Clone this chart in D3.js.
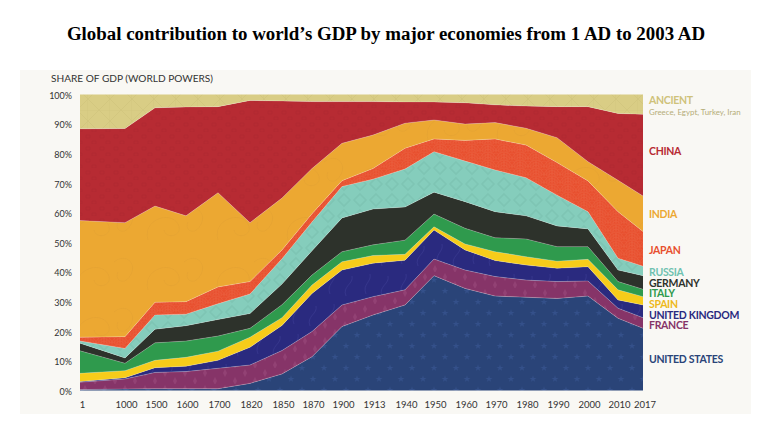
<!DOCTYPE html>
<html>
<head>
<meta charset="utf-8">
<script src="https://cdn.jsdelivr.net/npm/d3@7"></script>
<style>
  html, body { margin: 0; padding: 0; background: #fff; }
  svg { display: block; }
  text { font-family: Lato, "Open Sans", sans-serif; }
</style>
</head>
<body>
<div id="chart"></div>
<script>
// data (percent share per period)
var years = ["1", "1000", "1500", "1600", "1700", "1820", "1850", "1870", "1900", "1913", "1940", "1950", "1960", "1970", "1980", "1990", "2000", "2010", "2017"];
var seriesNames = ["United States", "France", "United Kingdom", "Spain", "Italy", "Germany", "Russia", "Japan", "India", "China", "Ancient"];
var yTicks = [0, 10, 20, 30, 40, 50, 60, 70, 80, 90, 100];

var unitedStates = [0.3, 0.5, 0.6, 0.6, 0.6, 2.4, 5.6, 11.4, 21.6, 25.5, 28.9, 38.8, 34.5, 31.9, 31.5, 31.1, 31.9, 24.4, 21];
var france = [2.5, 3.4, 5.5, 5.8, 6.9, 6.2, 7.9, 8.5, 7.3, 6.2, 5.1, 5.6, 6.2, 6.6, 5.8, 5.7, 5.1, 3.4, 3.6];
var unitedKingdom = [0.2, 0.4, 1.6, 1.8, 2.7, 6, 8.5, 12.9, 11.8, 11.3, 10, 9.8, 6.8, 5.4, 5.1, 4.5, 4.8, 2.8, 4.3];
var spain = [2.8, 2.4, 2.5, 3, 3.1, 3.4, 2.6, 2.8, 2.8, 2.6, 2, 1.1, 2, 3, 2.8, 2.4, 2.5, 3.4, 2.8];
var italy = [7.6, 2.5, 5.9, 5.5, 5.1, 3, 4.4, 3.4, 3.4, 3.6, 4.8, 4.3, 5.3, 4.7, 6, 4.9, 4.3, 2.8, 2.5];
var germany = [2.6, 1.8, 4.6, 5.2, 5.6, 5, 7, 8.2, 11.4, 12.1, 11.2, 7.4, 9, 8.8, 7.8, 7, 6, 3.9, 4.6];
var russia = [0.7, 3.2, 4.8, 3.9, 5.3, 6.6, 8.5, 9.7, 10.6, 10.1, 12.8, 13.7, 13.7, 14.1, 12.9, 10.4, 5.8, 4, 3.2];
var japan = [1.3, 4, 4.3, 4.2, 5.7, 4.2, 3, 2.8, 2, 3.6, 7, 4.3, 7, 10.5, 11, 11, 10.4, 15.7, 11.7];
var india = [39.4, 38.5, 32.5, 29, 31.8, 19.9, 17.5, 15.3, 12.6, 11.3, 8.5, 6.4, 5.5, 5.5, 5.7, 8.4, 6.5, 10.6, 12];
var china = [31, 31.8, 33.2, 36.8, 29.1, 41.3, 32.8, 22.6, 14.1, 11.3, 7.2, 6.1, 7.2, 6, 7.5, 10.5, 18.6, 22.6, 27.6];
var ancient = [11.6, 11.5, 4.5, 4.2, 4.1, 2, 2.2, 2.4, 2.4, 2.4, 2.5, 2.5, 2.8, 3.5, 3.9, 4.1, 4.1, 6.4, 6.7];

var seriesValues = [unitedStates, france, unitedKingdom, spain, italy, germany, russia, japan, india, china, ancient];

// legend text beside the chart
var labelTexts = ["ANCIENT", "CHINA", "INDIA", "JAPAN", "RUSSIA", "GERMANY", "ITALY", "SPAIN", "UNITED KINGDOM", "FRANCE", "UNITED STATES"];

// layout and styles
var svgWidth = 767;
var svgHeight = 433;
var plot = { left: 80, right: 643, top: 94.5, bottom: 390.5 };
var xGaps = [0, 45, 30, 31, 32, 32, 32, 30, 30, 31, 32, 29, 31, 30, 31, 31, 31, 30, 25];
var colors = ["#2a4478", "#863468", "#2a2a7f", "#f6cc1a", "#2f9a4d", "#2d322b", "#85cdbc", "#e8502f", "#eca832", "#b72b33", "#d9cd85"];
var labelY = [100, 151, 214, 250, 272, 283, 293.5, 304.5, 315, 325.5, 359];
var labelColors = ["#cfc27a", "#b72b33", "#eca832", "#e8502f", "#6fc2b0", "#2d322b", "#2f9a4d", "#eeb91a", "#2a2a7f", "#863468", "#2a4478"];

var svg = d3.select("#chart")
  .append("svg")
  .attr("width", svgWidth)
  .attr("height", svgHeight);

// faint textures inside the bands
var defs = svg.append("defs");

function addPattern(id, w, h, color, draw) {
  var p = defs.append("pattern")
    .attr("id", id)
    .attr("patternUnits", "userSpaceOnUse")
    .attr("width", w)
    .attr("height", h);
  p.append("rect").attr("width", w).attr("height", h).attr("fill", color);
  draw(p);
}

var star = d3.symbol().type(d3.symbolStar);

addPattern("tex0", 22, 22, colors[0], function(p) {
  p.append("path").attr("d", star.size(14)()).attr("transform", "translate(5,5)").attr("fill", "#34508a");
  p.append("path").attr("d", star.size(14)()).attr("transform", "translate(16,16)").attr("fill", "#34508a");
});
addPattern("tex1", 20, 16, colors[1], function(p) {
  p.append("path").attr("d", "M5 1 L7 5 L5 9 L3 5 Z M15 9 L17 13 L15 17 L13 13 Z").attr("fill", "#924174");
});
addPattern("tex2", 36, 30, colors[2], function(p) {
  p.append("path").attr("d", "M6 24 C2 14 12 12 10 4 M22 26 C18 16 30 14 28 6").attr("fill", "none").attr("stroke", "#35358c").attr("stroke-width", 1);
});
addPattern("tex6", 16, 16, colors[6], function(p) {
  p.append("path").attr("d", "M8 2 L14 8 L8 14 L2 8 Z").attr("fill", "none").attr("stroke", "#7ec5b4").attr("stroke-width", 1.6);
});
addPattern("tex7", 16, 8, colors[7], function(p) {
  [8, 5.5, 3].forEach(function(r) {
    p.append("circle").attr("cx", 8).attr("cy", 8).attr("r", r).attr("fill", "none").attr("stroke", "#ea5f3e").attr("stroke-width", 0.6);
    p.append("circle").attr("cx", 0).attr("cy", 4).attr("r", r).attr("fill", "none").attr("stroke", "#ea5f3e").attr("stroke-width", 0.5);
    p.append("circle").attr("cx", 16).attr("cy", 4).attr("r", r).attr("fill", "none").attr("stroke", "#ea5f3e").attr("stroke-width", 0.5);
  });
});
addPattern("tex8", 70, 50, colors[8], function(p) {
  p.append("path").attr("d", "M8 40 C2 20 30 10 38 24 C44 36 26 40 24 30 M44 12 C56 2 68 14 60 26 C54 36 44 30 48 22").attr("fill", "none").attr("stroke", "#e3a130").attr("stroke-width", 0.6);
});
addPattern("tex9", 14, 12, colors[9], function(p) {
  p.append("path").attr("d", "M2 3 h4 v3 h-4 Z M8 9 h4 v3 h-4 Z").attr("fill", "none").attr("stroke", "#ae2830").attr("stroke-width", 0.7);
});
addPattern("tex10", 22, 22, colors[10], function(p) {
  p.append("path").attr("d", "M11 0 L22 11 L11 22 L0 11 Z M0 0 H22 V22").attr("fill", "none").attr("stroke", "#cfc37a").attr("stroke-width", 0.6);
});

// paper background
svg.append("rect")
  .attr("x", 20)
  .attr("y", 70)
  .attr("width", 731)
  .attr("height", 344)
  .attr("fill", "#f9f8f4");

// title
svg.append("text")
  .attr("x", 386)
  .attr("y", 40)
  .attr("text-anchor", "middle")
  .style("font-family", "'Liberation Serif', serif")
  .style("font-weight", "bold")
  .style("font-size", "18.9px")
  .attr("fill", "#000")
  .text("Global contribution to world\u2019s GDP by major economies from 1 AD to 2003 AD");

// x scale: periods are not evenly spaced on the original axis
var xPositions = d3.cumsum(xGaps).map(function(d) { return plot.left + d; });
var xScale = d3.scaleLinear()
  .domain(years.map(Number))
  .range(Array.from(xPositions));

var yScale = d3.scaleLinear()
  .domain([0, 100])
  .range([plot.bottom, plot.top]);

// stack the series
var rows = years.map(function(y, i) {
  var row = { year: +y };
  seriesNames.forEach(function(name, s) {
    row[name] = seriesValues[s][i];
  });
  return row;
});

var stacked = d3.stack().keys(seriesNames)(rows);

var area = d3.area()
  .x(function(d) { return xScale(d.data.year); })
  .y0(function(d) { return yScale(d[0]); })
  .y1(function(d) { return yScale(d[1]); });

var topLine = d3.line()
  .x(function(d) { return xScale(d.data.year); })
  .y(function(d) { return yScale(d[1]); });

svg.append("g")
  .selectAll("path")
  .data(stacked)
  .enter()
  .append("path")
  .attr("d", area)
  .attr("fill", function(d, i) {
    return [0, 1, 2, 6, 7, 8, 9, 10].indexOf(i) >= 0 ? "url(#tex" + i + ")" : colors[i];
  });

// thin pale seams between bands
svg.append("g")
  .selectAll("path")
  .data(stacked.slice(0, -1))
  .enter()
  .append("path")
  .attr("d", topLine)
  .attr("fill", "none")
  .attr("stroke", "#fff")
  .attr("stroke-opacity", 0.3)
  .attr("stroke-width", 0.7);

// axes
var bottomAxis = d3.axisBottom(xScale)
  .tickValues(years.map(Number))
  .tickFormat(d3.format("d"))
  .tickSize(0);

var leftAxis = d3.axisLeft(yScale)
  .tickValues(yTicks)
  .tickFormat(function(d) { return d + "%"; })
  .tickSize(0);

var xAxisGroup = svg.append("g")
  .attr("transform", "translate(0," + plot.bottom + ")")
  .call(bottomAxis);
xAxisGroup.select(".domain").remove();
xAxisGroup.selectAll("text")
  .attr("y", 10.5)
  .attr("dx", function(d) { return d === 1 ? 2 : (d === 2017 ? 1.5 : 1); })
  .style("font-family", "Lato, sans-serif")
  .style("font-size", "9.5px")
  .attr("fill", "#333");

var yAxisGroup = svg.append("g")
  .attr("transform", "translate(" + plot.left + ",0)")
  .call(leftAxis);
yAxisGroup.select(".domain").remove();
yAxisGroup.selectAll("text")
  .attr("x", -8)
  .attr("y", 1)
  .style("font-family", "Lato, sans-serif")
  .style("font-size", "9px")
  .attr("fill", "#333");

// axis title
svg.append("text")
  .attr("x", 51)
  .attr("y", 82)
  .style("font-size", "10.1px")
  .attr("fill", "#333")
  .text("SHARE OF GDP (WORLD POWERS)");

// labels at the right
svg.append("g")
  .selectAll("text")
  .data(labelTexts)
  .enter()
  .append("text")
  .attr("x", 649)
  .attr("y", function(d, i) { return labelY[i]; })
  .attr("dy", "0.36em")
  .style("font-size", "10.5px")
  .style("letter-spacing", "-0.3px")
  .style("font-weight", "bold")
  .attr("fill", function(d, i) { return labelColors[i]; })
  .text(function(d) { return d; });

svg.append("text")
  .attr("x", 649)
  .attr("y", 112)
  .attr("dy", "0.36em")
  .style("font-size", "7.9px")
  .attr("fill", "#b5ad78")
  .text("Greece, Egypt, Turkey, Iran");
</script>
</body>
</html>
